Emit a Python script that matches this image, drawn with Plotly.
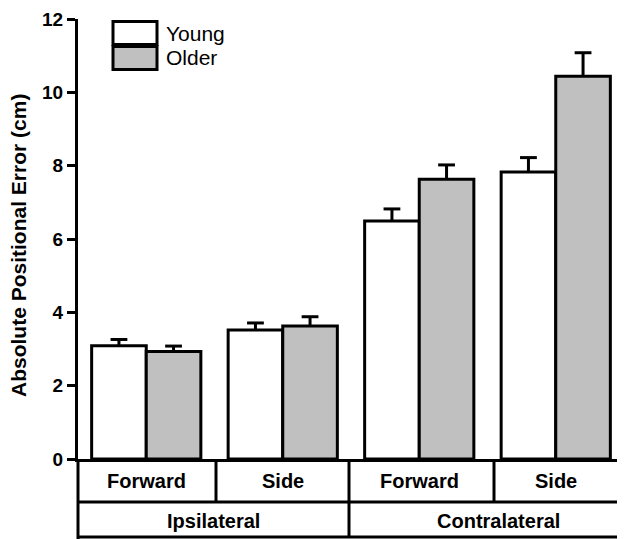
import plotly.graph_objects as go

# ---- data ----
conditions = ["Ipsilateral Forward", "Ipsilateral Side", "Contralateral Forward", "Contralateral Side"]
sub_labels = ["Forward", "Side", "Forward", "Side"]
group_labels = ["Ipsilateral", "Contralateral"]
young_mean = [3.09, 3.52, 6.49, 7.83]
young_err = [0.17, 0.19, 0.33, 0.39]
older_mean = [2.93, 3.63, 7.63, 10.44]
older_err = [0.15, 0.25, 0.39, 0.64]
y_ticks = [0, 2, 4, 6, 8, 10, 12]

FONT = "Liberation Sans, Arial, sans-serif"
OFF = 8  # default body margin of the page
W, H = 625 - OFF, 539 - OFF
L, R, T, B = 78 - OFF, 1, 19 - OFF, 80
PW, PH = W - L - R, H - T - B

def px_x(px):  # reference page pixel -> paper
    return (px - OFF - L) / PW

def px_y(py):
    return (H - B - (py - OFF)) / PH

xs = list(range(len(conditions)))
BAR_OFF = 0.2

fig = go.Figure()
for means, errs, col, name, sign in [(young_mean, young_err, "white", "Young", -1),
                                     (older_mean, older_err, "#c0c0c0", "Older", 1)]:
    fig.add_trace(go.Bar(
        x=xs, y=means, name=name,
        marker=dict(color=col, line=dict(color="black", width=3)),
        error_y=dict(type="data", symmetric=False, array=errs,
                     arrayminus=[0] * len(errs), color="black", thickness=3, width=0),
        showlegend=False,
    ))
for means, errs, sign in [(young_mean, young_err, -1), (older_mean, older_err, 1)]:
    fig.add_trace(go.Scatter(
        x=[x + sign * BAR_OFF for x in xs],
        y=[m + e for m, e in zip(means, errs)],
        mode="markers", hoverinfo="skip", showlegend=False,
        marker=dict(symbol="line-ew", size=12, color="black",
                    line=dict(color="black", width=3)),
    ))

shapes = []
annotations = []

# table below axis
row1_bot = px_y(502)
row2_bot = px_y(537)
for yy in [row1_bot, row2_bot]:
    shapes.append(dict(type="line", xref="paper", yref="paper", x0=0, x1=1.02,
                       y0=yy, y1=yy, line=dict(color="black", width=3)))
for xp, ybot in [(216, row1_bot), (349, row2_bot), (494, row1_bot)]:
    shapes.append(dict(type="line", xref="paper", yref="paper", x0=px_x(xp), x1=px_x(xp),
                       y0=0, y1=ybot, line=dict(color="black", width=3)))
shapes.append(dict(type="line", xref="paper", yref="paper", x0=px_x(78), x1=px_x(78),
                   y0=0, y1=row2_bot - 0.02, line=dict(color="black", width=3)))

for xi, lab in zip(xs, sub_labels):
    annotations.append(dict(x=xi, xref="x", y=px_y(481.5), yref="paper", text=lab,
                            showarrow=False, xanchor="center", yanchor="middle",
                            font=dict(family=FONT, size=20, color="black", weight="bold")))
for xp, lab in zip([213.5, 498], group_labels):
    annotations.append(dict(x=px_x(xp), xref="paper", y=px_y(521), yref="paper", text=lab,
                            showarrow=False, xanchor="center", yanchor="middle",
                            font=dict(family=FONT, size=20, color="black", weight="bold")))

annotations.append(dict(x=px_x(19), xref="paper", y=px_y(246), yref="paper",
                        text="Absolute Positional Error (cm)", textangle=-90,
                        showarrow=False, xanchor="center", yanchor="middle",
                        font=dict(family=FONT, size=21, color="black", weight="bold")))

# legend
for (y0, y1, col, lab, ty) in [(21.5, 44.5, "white", "Young", 33), (46.5, 69.5, "#c0c0c0", "Older", 58)]:
    shapes.append(dict(type="rect", xref="paper", yref="paper", x0=px_x(113), x1=px_x(157),
                       y0=px_y(y1), y1=px_y(y0), fillcolor=col, line=dict(color="black", width=3)))
    annotations.append(dict(x=px_x(164), xref="paper", y=px_y(ty), yref="paper", text=lab,
                            showarrow=False, xanchor="left", yanchor="middle",
                            font=dict(family=FONT, size=21, color="black")))

fig.update_layout(
    width=W, height=H,
    margin=dict(l=L, r=R, t=T, b=B, pad=0),
    plot_bgcolor="white", paper_bgcolor="white",
    barmode="group", bargap=0.2, bargroupgap=0,
    shapes=shapes, annotations=annotations,
    xaxis=dict(range=[-0.5, 3.5], showticklabels=False, ticks="", showgrid=False,
               zeroline=False, showline=True, linecolor="black", linewidth=3),
    yaxis=dict(range=[0, 12], tickvals=y_ticks, ticks="outside", ticklen=8, tickwidth=3,
               tickcolor="black", showline=True, linecolor="black", linewidth=3,
               showgrid=False, zeroline=False,
               tickfont=dict(family=FONT, size=19, color="black", weight="bold")),
    showlegend=False,
)

fig.write_html("out.html")
